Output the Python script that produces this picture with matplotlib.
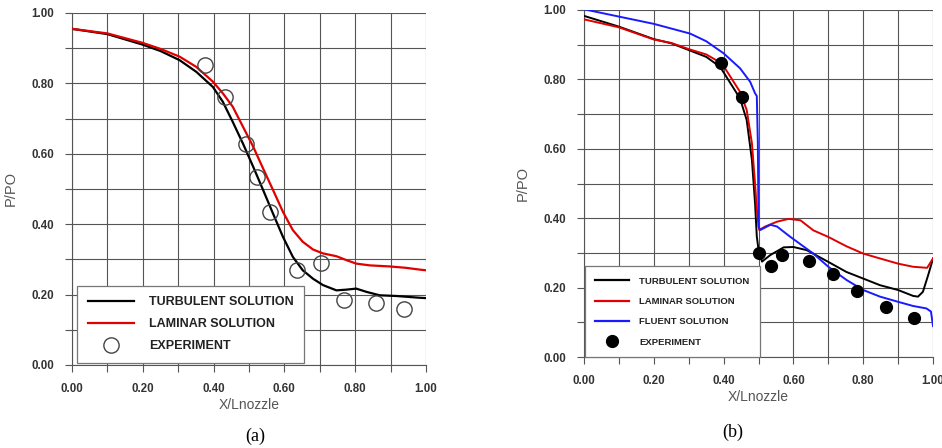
import matplotlib
matplotlib.use("Agg")
import matplotlib.pyplot as plt
from matplotlib.lines import Line2D

plt.rcParams['font.family'] = ['Liberation Sans', 'DejaVu Sans']

# panel (a)
a_turb_x = [0.0, 0.1, 0.2, 0.25, 0.304, 0.351, 0.398, 0.426, 0.454, 0.483, 0.512, 0.54, 0.568, 0.596,
            0.624, 0.652, 0.681, 0.709, 0.747, 0.775, 0.803, 0.831, 0.869, 0.916, 0.982, 1.0]
a_turb_y = [0.955, 0.940, 0.910, 0.892, 0.866, 0.833, 0.79, 0.748, 0.691, 0.629, 0.563, 0.497, 0.43, 0.364,
            0.307, 0.269, 0.245, 0.227, 0.212, 0.214, 0.217, 0.208, 0.198, 0.196, 0.191, 0.190]
a_lam_x = [0.0, 0.1, 0.2, 0.25, 0.304, 0.351, 0.398, 0.426, 0.454, 0.483, 0.512, 0.54, 0.568, 0.596,
           0.624, 0.652, 0.681, 0.709, 0.747, 0.775, 0.803, 0.841, 0.897, 0.944, 0.982, 1.0]
a_lam_y = [0.955, 0.942, 0.915, 0.898, 0.876, 0.847, 0.805, 0.772, 0.734, 0.677, 0.62, 0.558, 0.497, 0.435,
           0.383, 0.35, 0.328, 0.317, 0.309, 0.298, 0.288, 0.283, 0.28, 0.276, 0.271, 0.269]
a_exp_x = [0.375, 0.431, 0.492, 0.522, 0.56, 0.635, 0.704, 0.768, 0.86, 0.937]
a_exp_y = [0.852, 0.76, 0.627, 0.535, 0.435, 0.269, 0.29, 0.186, 0.176, 0.16]

# panel (b)
b_turb_x = [0.0, 0.1, 0.2, 0.25, 0.304, 0.35, 0.39, 0.447, 0.466, 0.481, 0.49, 0.495, 0.5, 0.51, 0.534,
            0.572, 0.6, 0.638, 0.7, 0.752, 0.8, 0.848, 0.9, 0.943, 0.957, 0.971, 0.986, 1.0]
b_turb_y = [0.983, 0.952, 0.916, 0.904, 0.883, 0.865, 0.836, 0.745, 0.683, 0.568, 0.443, 0.347, 0.309, 0.275, 0.294,
            0.316, 0.317, 0.308, 0.274, 0.245, 0.226, 0.207, 0.193, 0.176, 0.174, 0.188, 0.236, 0.284]
b_lam_x = [0.0, 0.1, 0.2, 0.25, 0.304, 0.35, 0.395, 0.447, 0.466, 0.481, 0.49, 0.495, 0.502, 0.519, 0.553,
           0.586, 0.62, 0.657, 0.7, 0.752, 0.8, 0.848, 0.9, 0.943, 0.983, 1.0]
b_lam_y = [0.973, 0.95, 0.915, 0.905, 0.886, 0.872, 0.846, 0.764, 0.712, 0.616, 0.5, 0.424, 0.366, 0.376, 0.39,
           0.398, 0.394, 0.365, 0.346, 0.319, 0.298, 0.284, 0.269, 0.26, 0.257, 0.284]
b_flu_x = [0.0, 0.1, 0.2, 0.304, 0.35, 0.4, 0.447, 0.476, 0.49, 0.495, 0.498, 0.5, 0.505, 0.534, 0.553,
           0.59, 0.657, 0.7, 0.752, 0.8, 0.848, 0.9, 0.943, 0.981, 0.994, 1.0]
b_flu_y = [1.002, 0.981, 0.96, 0.932, 0.91, 0.875, 0.832, 0.793, 0.76, 0.752, 0.616, 0.376, 0.366, 0.381, 0.376,
           0.347, 0.298, 0.26, 0.222, 0.193, 0.174, 0.159, 0.147, 0.14, 0.131, 0.089]
b_exp_x = [0.393, 0.453, 0.502, 0.536, 0.568, 0.645, 0.714, 0.781, 0.865, 0.945]
b_exp_y = [0.846, 0.748, 0.299, 0.261, 0.294, 0.277, 0.238, 0.191, 0.143, 0.111]

tick_vals = [0.0, 0.2, 0.4, 0.6, 0.8, 1.0]
minor_vals = [0.1, 0.3, 0.5, 0.7, 0.9]
tick_labels = ['0.00', '0.20', '0.40', '0.60', '0.80', '1.00']


def styleAxes(ax):
    ax.set_xlim(0, 1)
    ax.set_ylim(0, 1)
    ax.set_xticks(tick_vals)
    ax.set_xticklabels(tick_labels)
    ax.set_yticks(tick_vals)
    ax.set_yticklabels(tick_labels)
    ax.set_xticks(minor_vals, minor=True)
    ax.set_yticks(minor_vals, minor=True)
    ax.grid(True, which='both', color='#555555', linewidth=0.8)
    ax.tick_params(which='both', direction='out', length=5, color='#555555', width=0.8)
    ax.tick_params(which='major', labelsize=8.3, pad=8, labelcolor='#333333')
    for lab in ax.get_xticklabels() + ax.get_yticklabels():
        lab.set_fontweight('bold')
    for s in ['top', 'right']:
        ax.spines[s].set_visible(False)
    for s in ['left', 'bottom']:
        ax.spines[s].set_color('#555555')
        ax.spines[s].set_linewidth(0.8)
    ax.set_xlabel('X/Lnozzle', fontsize=10, color='#555555', labelpad=2)
    ax.set_ylabel('P/PO', fontsize=10.5, color='#555555', labelpad=10)


fig = plt.figure(figsize=(9.42, 4.48), dpi=100)

ax1 = fig.add_axes([0.0764, 0.1853, 0.3758, 0.7857])
styleAxes(ax1)
ax1.plot(a_turb_x, a_turb_y, color='black', linewidth=1.6, zorder=3)
ax1.plot(a_lam_x, a_lam_y, color='#e00000', linewidth=1.6, zorder=3)
ax1.plot(a_exp_x, a_exp_y, linestyle='none', marker='o', markersize=11,
         markerfacecolor='none', markeredgecolor='#444444', markeredgewidth=1.0, zorder=4)
h1 = [Line2D([], [], color='black', linewidth=1.6),
      Line2D([], [], color='#e00000', linewidth=1.6),
      Line2D([], [], linestyle='none', marker='o', markersize=11, markerfacecolor='none',
             markeredgecolor='#444444', markeredgewidth=1.0)]
leg1 = ax1.legend(h1, ['TURBULENT SOLUTION', 'LAMINAR SOLUTION', 'EXPERIMENT'],
                  loc='lower left', bbox_to_anchor=(0.014, 0.006),
                  fancybox=False, framealpha=1, edgecolor='#777777', borderpad=0.85,
                  borderaxespad=0, handlelength=3.7, handletextpad=1.2, labelspacing=0.8,
                  prop={'weight': 'bold', 'size': 9})
leg1.get_frame().set_linewidth(0.9)
leg1.set_zorder(5)
for t in leg1.get_texts():
    t.set_color('#222222')

ax2 = fig.add_axes([0.620, 0.2031, 0.3705, 0.7746])
styleAxes(ax2)
ax2.plot(b_turb_x, b_turb_y, color='black', linewidth=1.4, zorder=3)
ax2.plot(b_lam_x, b_lam_y, color='#e00000', linewidth=1.4, zorder=3)
ax2.plot(b_flu_x, b_flu_y, color='#1a1aff', linewidth=1.4, zorder=3)
ax2.plot(b_exp_x, b_exp_y, linestyle='none', marker='o', markersize=8.5,
         color='black', zorder=4)
h2 = [Line2D([], [], color='black', linewidth=1.6),
      Line2D([], [], color='#e00000', linewidth=1.6),
      Line2D([], [], color='#1a1aff', linewidth=1.6),
      Line2D([], [], linestyle='none', marker='o', markersize=8.5, color='black')]
leg2 = ax2.legend(h2, ['TURBULENT SOLUTION', 'LAMINAR SOLUTION', 'FLUENT SOLUTION', 'EXPERIMENT'],
                  loc='lower left', bbox_to_anchor=(0.003, 0.0),
                  fancybox=False, framealpha=1, edgecolor='#777777', borderpad=1.1,
                  borderaxespad=0, handlelength=3.5, handletextpad=1.15, labelspacing=1.2,
                  prop={'weight': 'bold', 'size': 6.8})
leg2.get_frame().set_linewidth(0.9)
leg2.set_zorder(5)
for t in leg2.get_texts():
    t.set_color('#222222')

fig.text(255 / 942, 1 - 436 / 448, '(a)', fontsize=13, ha='center', va='center',
         family=['Liberation Serif', 'DejaVu Serif'])
fig.text(733 / 942, 1 - 432 / 448, '(b)', fontsize=13, ha='center', va='center',
         family=['Liberation Serif', 'DejaVu Serif'])

fig.savefig('out.png', dpi=100)
